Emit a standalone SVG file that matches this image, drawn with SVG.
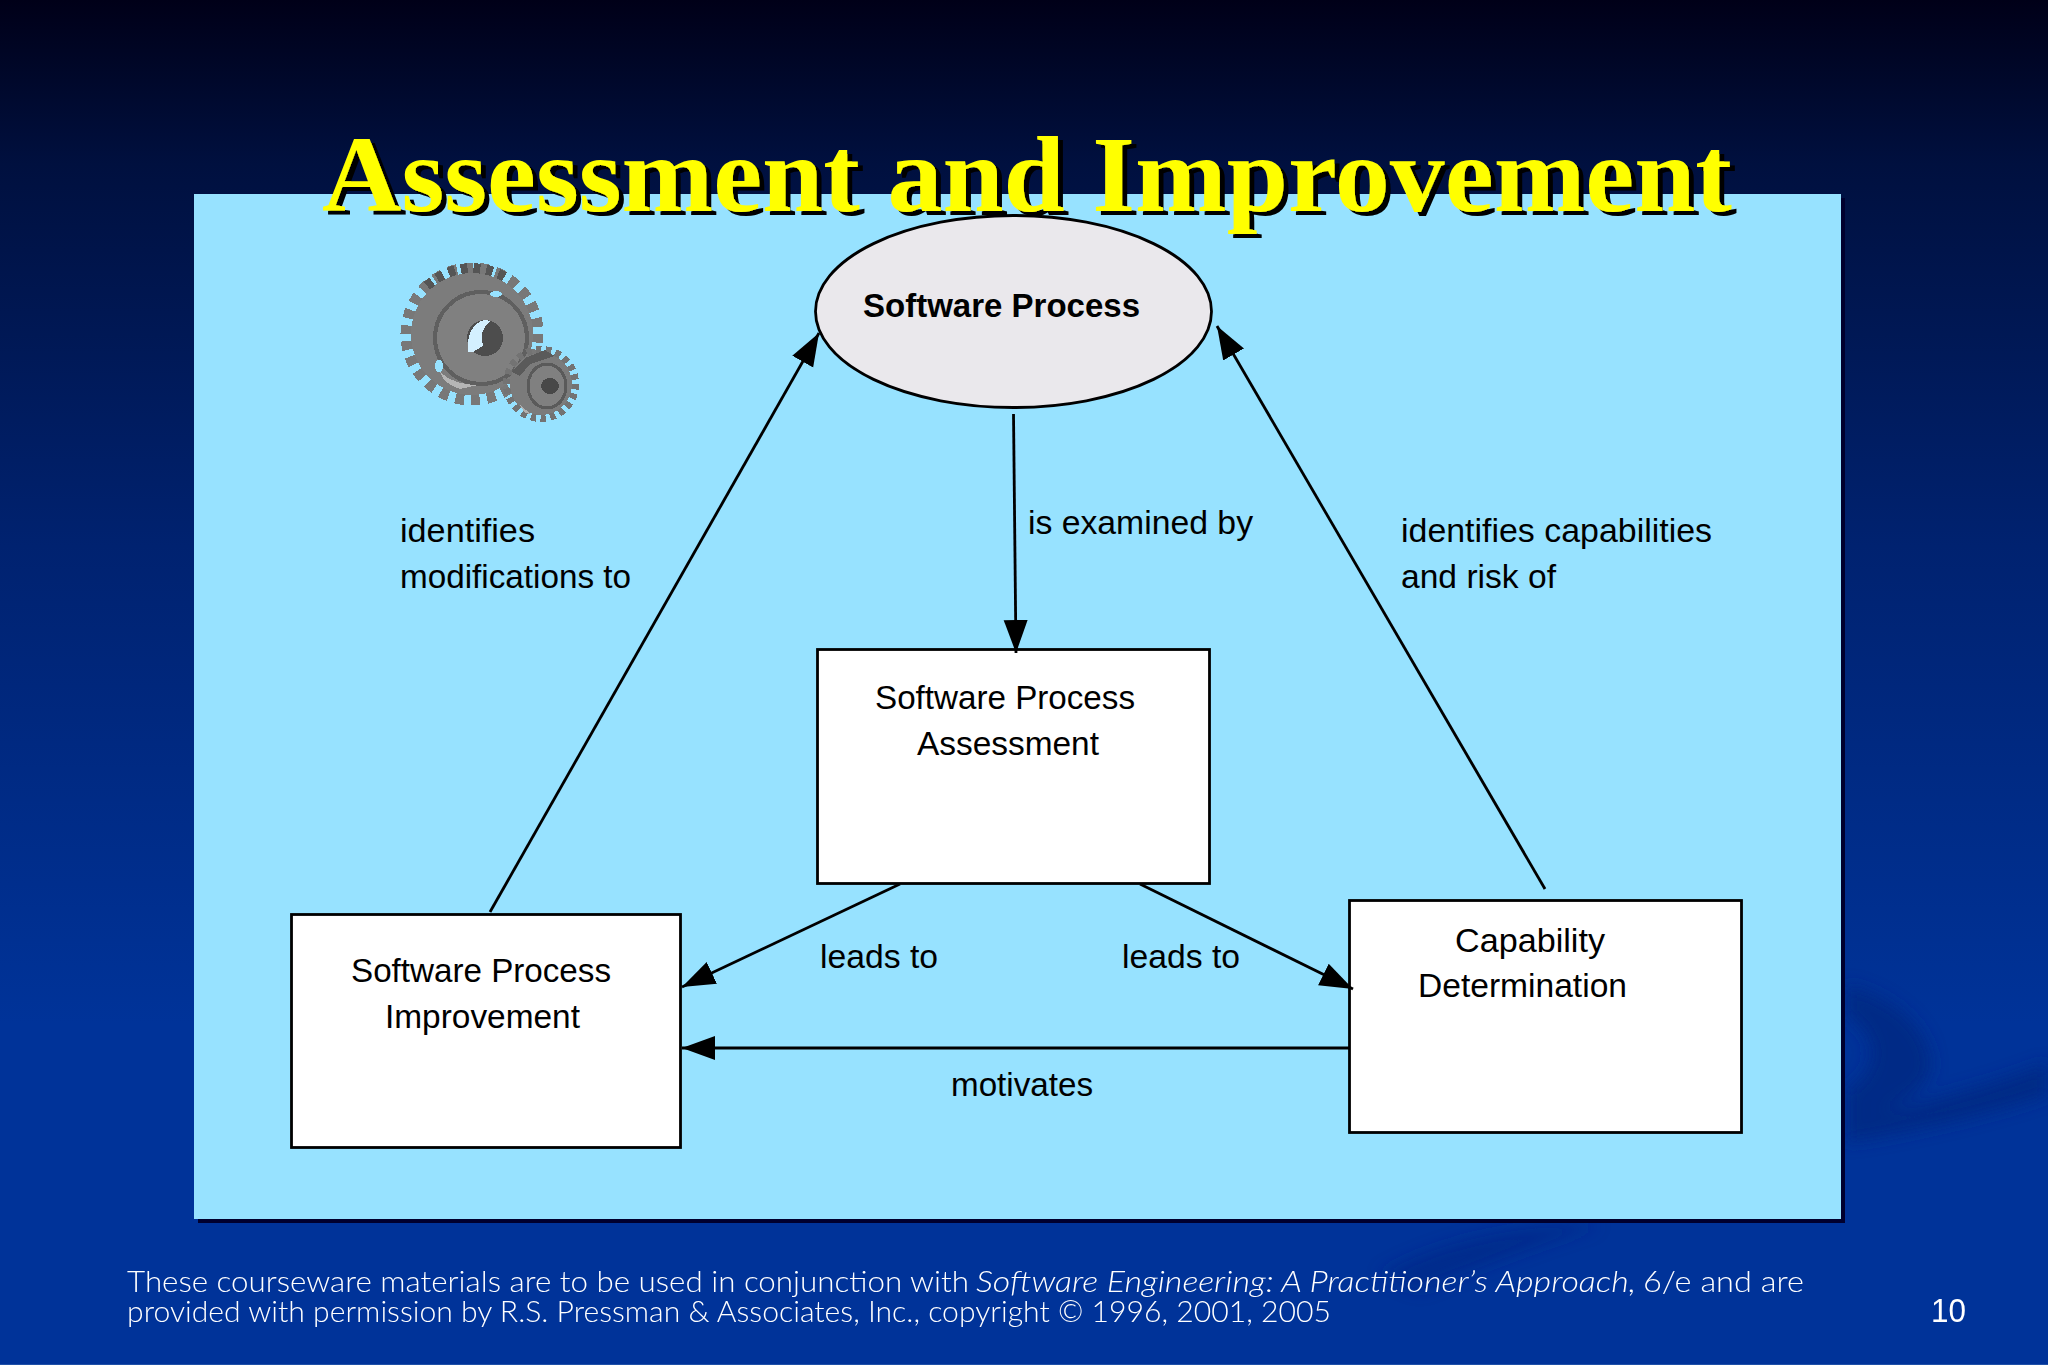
<svg xmlns="http://www.w3.org/2000/svg" width="2048" height="1365" viewBox="0 0 2048 1365">
<style>
.t{font-family:"Liberation Sans",Arial,sans-serif;font-size:33px;fill:#000}
.b{font-weight:bold}
.title{font-family:"Liberation Serif","Times New Roman",serif;font-weight:bold;font-size:108px;fill:#ffff00;filter:url(#ts)}
.foot{font-family:Lato,"Open Sans",sans-serif;font-weight:300;font-size:30px;fill:#fff}
.box{fill:#fff;stroke:#000;stroke-width:2.8}
.c{fill:none;stroke:#000;stroke-width:2.8;marker-end:url(#arrow)}
</style>
<defs>
<linearGradient id="bg" x1="0" y1="0" x2="0" y2="1">
<stop offset="0" stop-color="#000018"/>
<stop offset="0.12" stop-color="#00103f"/>
<stop offset="0.4" stop-color="#002270"/>
<stop offset="0.75" stop-color="#003399"/>
<stop offset="1" stop-color="#003399"/>
</linearGradient>
<filter id="soft" x="-30%" y="-30%" width="160%" height="160%"><feGaussianBlur stdDeviation="8"/></filter>
<filter id="ts" x="-2%" y="-10%" width="104%" height="125%"><feDropShadow dx="5" dy="4" stdDeviation="0.4" flood-color="#000"/></filter>
<marker id="arrow" markerUnits="userSpaceOnUse" markerWidth="36" markerHeight="28" refX="33" refY="14" orient="auto">
<path d="M0 2L33 14L0 26z" fill="#000"/>
</marker>
</defs>
<rect width="2048" height="1365" fill="url(#bg)"/>
<g fill="#002a86" filter="url(#soft)">
<path d="M1846 985C1905 1000 1935 1040 1930 1070C1925 1095 1885 1115 1846 1120L1846 1090C1875 1075 1885 1040 1846 1015z"/>
<path d="M2048 1063C1990 1085 1920 1105 1846 1118L1846 1142C1930 1130 2000 1110 2048 1095z"/>
<path d="M1380 1275C1440 1240 1520 1225 1600 1225C1520 1250 1460 1275 1420 1290z" opacity="0.6"/>
</g>
<rect y="1364" width="2048" height="1" fill="#1f50a8"/>
<rect x="198" y="198" width="1647" height="1025" fill="#00002e"/>
<rect x="194" y="194" width="1647" height="1025" fill="#97e2ff"/>
<g id="gears" shape-rendering="crispEdges">
<g id="gear-big">
<circle cx="472" cy="334" r="65" fill="none" stroke="#787878" stroke-width="13" pathLength="52" stroke-dasharray="1.100 0.900"/>
<path d="M428 287A64 64 0 0 1 505 279" fill="none" stroke="#555" stroke-width="13" pathLength="10" stroke-dasharray="0.800 0.700"/>
<circle cx="472" cy="334" r="61" fill="#7c7c7c"/>
<ellipse cx="481" cy="338" rx="46" ry="46" fill="#808080" stroke="#5f5f5f" stroke-width="4"/>
<ellipse cx="485" cy="338" rx="18" ry="18" fill="#4d4d4d"/>
<path d="M485 320C472 322 466 338 468 352C473 354 478 348 483 346C480 336 482 328 490 321z" fill="#d4f0ff"/>
<path d="M440 372C450 382 465 385 478 385L460 389C450 386 442 380 440 372z" fill="#b5b5b5"/>
<ellipse cx="439" cy="366" rx="4" ry="6" fill="#97e2ff"/>
<ellipse cx="496" cy="294" rx="6" ry="3" fill="#97e2ff"/>
</g>
<g id="gear-small">
<circle cx="541" cy="384" r="34" fill="none" stroke="#737373" stroke-width="8" pathLength="44" stroke-dasharray="1.100 0.900"/>
<circle cx="541" cy="384" r="31" fill="#7b7b7b"/>
<path d="M512 372L525 358L545 350L555 356L530 364L520 376z" fill="#5a5a5a"/>
<ellipse cx="547" cy="386" rx="19" ry="22" fill="#808080" stroke="#5a5a5a" stroke-width="3"/>
<ellipse cx="550" cy="386" rx="9" ry="8" fill="#484848"/>
<path d="M520 405L532 415L524 412z" fill="#b0b0b0"/>
</g>
</g>
<g id="node-software-process">
<ellipse cx="1013.500" cy="311.500" rx="198" ry="96" fill="#eae8ec" stroke="#000" stroke-width="2.800"/>
<text class="t b" x="863" y="317" textLength="277" lengthAdjust="spacingAndGlyphs">Software Process</text>
</g>
<g id="node-assessment">
<rect class="box" x="817.500" y="649.500" width="392" height="234"/>
<text class="t" x="875" y="709" textLength="260" lengthAdjust="spacingAndGlyphs">Software Process</text>
<text class="t" x="917" y="755" textLength="182" lengthAdjust="spacingAndGlyphs">Assessment</text>
</g>
<g id="node-improvement">
<rect class="box" x="291.500" y="914.500" width="389" height="233"/>
<text class="t" x="351" y="982" textLength="260" lengthAdjust="spacingAndGlyphs">Software Process</text>
<text class="t" x="385" y="1028" textLength="195" lengthAdjust="spacingAndGlyphs">Improvement</text>
</g>
<g id="node-capability">
<rect class="box" x="1349.500" y="900.500" width="392" height="232"/>
<text class="t" x="1455" y="952" textLength="150" lengthAdjust="spacingAndGlyphs">Capability</text>
<text class="t" x="1418" y="997" textLength="209" lengthAdjust="spacingAndGlyphs">Determination</text>
</g>
<g id="connectors">
<path class="c" d="M1013.500 414L1016 653"/>
<path class="c" d="M490 912L819 333"/>
<path class="c" d="M1545 889L1217 326"/>
<path class="c" d="M900 884L682 987"/>
<path class="c" d="M1140 884L1353 989"/>
<path class="c" d="M1349 1048L682 1048"/>
</g>
<g id="labels">
<text class="t" x="400" y="542" textLength="135" lengthAdjust="spacingAndGlyphs">identifies</text>
<text class="t" x="400" y="588" textLength="231" lengthAdjust="spacingAndGlyphs">modifications to</text>
<text class="t" x="1028" y="534" textLength="225" lengthAdjust="spacingAndGlyphs">is examined by</text>
<text class="t" x="1401" y="542" textLength="311" lengthAdjust="spacingAndGlyphs">identifies capabilities</text>
<text class="t" x="1401" y="588" textLength="155" lengthAdjust="spacingAndGlyphs">and risk of</text>
<text class="t" x="820" y="968" textLength="118" lengthAdjust="spacingAndGlyphs">leads to</text>
<text class="t" x="1122" y="968" textLength="118" lengthAdjust="spacingAndGlyphs">leads to</text>
<text class="t" x="951" y="1096" textLength="142" lengthAdjust="spacingAndGlyphs">motivates</text>
</g>
<g id="title">
<text class="title" x="322" y="211" textLength="1410" lengthAdjust="spacingAndGlyphs">Assessment and Improvement</text>
</g>
<g id="footer">
<text class="foot" y="1292"><tspan x="127" textLength="842" lengthAdjust="spacingAndGlyphs">These courseware materials are to be used in conjunction with</tspan> <tspan x="976" font-style="italic" textLength="660" lengthAdjust="spacingAndGlyphs">Software Engineering: A Practitioner’s Approach,</tspan> <tspan x="1643" textLength="161" lengthAdjust="spacingAndGlyphs">6/e and are</tspan></text>
<text class="foot" x="127" y="1322" textLength="1204" lengthAdjust="spacingAndGlyphs">provided with permission by R.S. Pressman &amp; Associates, Inc., copyright © 1996, 2001, 2005</text>
<text class="t" style="fill:#fff" x="1931" y="1322" textLength="35" lengthAdjust="spacingAndGlyphs">10</text>
</g>
</svg>
